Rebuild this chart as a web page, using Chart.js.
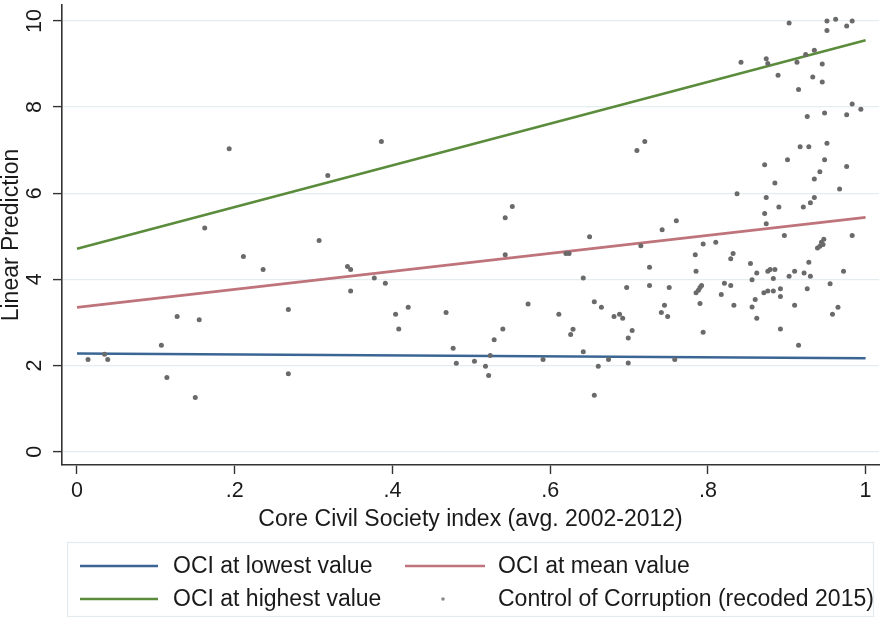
<!DOCTYPE html>
<html>
<head>
<meta charset="utf-8">
<script src="https://cdn.jsdelivr.net/npm/chart.js@4/dist/chart.umd.min.js"></script>
<style>
  html, body { margin: 0; padding: 0; background: #ffffff; }
  #wrap { width: 883px; height: 617px; position: relative; }
</style>
</head>
<body>
<div id="wrap"><canvas id="c" width="883" height="617"></canvas></div>
<script>
// ---------- DATA ----------
const xTicks = [0, 0.2, 0.4, 0.6, 0.8, 1];
const xTickLabels = ["0", ".2", ".4", ".6", ".8", "1"];
const yTicks = [0, 2, 4, 6, 8, 10];
const yTickLabels = ["0", "2", "4", "6", "8", "10"];

const seriesLabels = ["OCI at lowest value", "OCI at mean value", "OCI at highest value", "Control of Corruption (recoded 2015)"];

const lineX = [0, 1];
const lowestY = [2.28, 2.17];
const meanY = [3.35, 5.44];
const highestY = [4.71, 9.55];

const civX = [
  0.014, 0.035, 0.039, 0.107, 0.114, 0.127, 0.150, 0.155, 0.162, 0.193,
  0.211, 0.236, 0.268, 0.268, 0.307, 0.318, 0.343, 0.347, 0.347, 0.377,
  0.386, 0.391, 0.404, 0.408, 0.420, 0.468, 0.477, 0.481, 0.504, 0.518,
  0.522, 0.524, 0.529, 0.540, 0.543, 0.543, 0.552, 0.572, 0.591, 0.611,
  0.620, 0.624, 0.626, 0.629, 0.642, 0.642, 0.650, 0.656, 0.656, 0.661,
  0.665, 0.674, 0.681, 0.688, 0.692, 0.697, 0.699, 0.699, 0.704, 0.710,
  0.720, 0.715, 0.726, 0.726, 0.741, 0.742, 0.745, 0.749, 0.751, 0.758,
  0.760, 0.784, 0.785, 0.785, 0.788, 0.790, 0.792, 0.790, 0.794, 0.794,
  0.810, 0.817, 0.821, 0.829, 0.829, 0.832, 0.833, 0.837, 0.842, 0.854,
  0.856, 0.856, 0.860, 0.862, 0.862, 0.871, 0.872, 0.872, 0.874, 0.874,
  0.874, 0.876, 0.876, 0.876, 0.879, 0.883, 0.883, 0.885, 0.885, 0.889,
  0.890, 0.892, 0.892, 0.892, 0.897, 0.901, 0.903, 0.903, 0.910, 0.910,
  0.913, 0.915, 0.915, 0.917, 0.921, 0.922, 0.924, 0.926, 0.926, 0.928,
  0.928, 0.930, 0.930, 0.933, 0.935, 0.935, 0.935, 0.939, 0.942, 0.942,
  0.944, 0.945, 0.945, 0.946, 0.947, 0.948, 0.948, 0.951, 0.951, 0.951,
  0.955, 0.958, 0.962, 0.965, 0.967, 0.972, 0.976, 0.976, 0.976, 0.983,
  0.983, 0.983, 0.994
];
const corruptionY = [
  2.14, 2.26, 2.14, 2.47, 1.72, 3.14, 1.26, 3.06, 5.19, 7.03,
  4.53, 4.23, 3.30, 1.81, 4.90, 6.41, 4.30, 4.23, 3.73, 4.03,
  7.20, 3.91, 3.19, 2.85, 3.35, 3.23, 2.40, 2.05, 2.10, 1.98,
  1.77, 2.23, 2.60, 2.85, 4.57, 5.43, 5.69, 3.43, 2.14, 3.19,
  4.60, 4.60, 2.72, 2.84, 4.03, 2.32, 4.99, 3.48, 1.31, 1.98,
  3.35, 2.14, 3.14, 3.19, 3.10, 3.81, 2.64, 2.06, 2.81, 6.99,
  7.20, 4.78, 4.28, 3.86, 3.23, 5.15, 3.40, 3.14, 3.81, 2.14,
  5.36, 4.57, 4.19, 3.69, 3.75, 3.81, 3.86, 3.44, 2.77, 4.82,
  4.86, 3.65, 3.91, 3.86, 4.48, 4.60, 3.40, 5.99, 9.04, 4.37,
  3.99, 3.36, 3.53, 4.15, 3.10, 3.69, 6.66, 5.53, 9.12, 5.90,
  5.29, 9.01, 4.19, 3.73, 4.23, 4.02, 3.73, 4.23, 6.24, 8.74,
  5.68, 3.78, 3.60, 2.85, 5.02, 6.78, 9.95, 4.07, 4.19, 3.40,
  9.04, 8.41, 2.47, 7.08, 5.68, 4.15, 9.22, 7.78, 3.78, 7.08,
  4.40, 5.78, 4.07, 8.70, 9.32, 6.33, 5.90, 4.73, 6.50, 4.77,
  4.86, 9.00, 8.58, 4.81, 4.93, 7.86, 6.78, 10.00, 9.78, 7.16,
  3.90, 3.19, 10.04, 3.35, 6.10, 4.19, 9.88, 7.82, 6.62, 10.00,
  8.07, 5.02, 7.95
];

// ---------- STYLE ----------
const FONT = '"Liberation Sans", Arial, Helvetica, sans-serif';
const colors = ['#3b6694', '#bf737b', '#5b8c3c', '#6a6a6a'];

const toPts = (xs, ys) => xs.map((x, i) => ({ x: x, y: ys[i] }));

const lineDs = (label, ys, color) => ({
  type: 'scatter',
  label: label,
  data: toPts(lineX, ys),
  showLine: true,
  borderColor: color,
  backgroundColor: color,
  borderWidth: 2.6,
  pointRadius: 0,
  pointHoverRadius: 0,
  order: 2
});

const datasets = [
  lineDs(seriesLabels[0], lowestY, colors[0]),
  lineDs(seriesLabels[1], meanY, colors[1]),
  lineDs(seriesLabels[2], highestY, colors[2]),
  {
    type: 'scatter',
    label: seriesLabels[3],
    data: toPts(civX, corruptionY),
    showLine: false,
    pointRadius: 2.5,
    pointBorderWidth: 0,
    pointBackgroundColor: colors[3],
    borderColor: colors[3],
    backgroundColor: colors[3],
    order: 1
  }
];

function zeroPad(s) { s.paddingLeft = 0; s.paddingRight = 0; s.paddingTop = 0; s.paddingBottom = 0; }

const legendPlugin = {
  id: 'boxLegend',
  afterDraw(chart) {
    const ctx = chart.ctx;
    const box = { x: 67, y: 542, w: 806, h: 74 };
    ctx.save();
    ctx.fillStyle = '#ffffff';
    ctx.fillRect(box.x, box.y, box.w, box.h);
    ctx.strokeStyle = '#e3eaee';
    ctx.lineWidth = 1.2;
    ctx.strokeRect(box.x + 0.5, box.y + 0.5, box.w, box.h);
    const rows = [566, 599];
    const keyX = [[80, 158], [405, 485]];
    const textX = [173, 498];
    ctx.font = '23px ' + FONT;
    ctx.textBaseline = 'middle';
    ctx.textAlign = 'left';
    chart.data.datasets.forEach((ds, i) => {
      const r = Math.floor(i / 2), c = i % 2;
      const y = rows[r];
      const [x0, x1] = keyX[c];
      if (ds.showLine) {
        ctx.strokeStyle = ds.borderColor;
        ctx.lineWidth = ds.borderWidth;
        ctx.beginPath();
        ctx.moveTo(x0, y);
        ctx.lineTo(x1, y);
        ctx.stroke();
      } else {
        ctx.fillStyle = '#8a8a8a';
        ctx.beginPath();
        ctx.arc(443, y, 1.8, 0, Math.PI * 2);
        ctx.fill();
      }
      ctx.fillStyle = '#1a1a1a';
      ctx.fillText(ds.label, textX[c], y + 1);
    });
    ctx.restore();
  }
};

new Chart(document.getElementById('c'), {
  type: 'scatter',
  data: { datasets: datasets },
  plugins: [legendPlugin],
  options: {
    responsive: false,
    animation: false,
    devicePixelRatio: 1,
    layout: { padding: { left: 0, right: 3, top: 5, bottom: 77 } },
    plugins: {
      legend: { display: false },
      tooltip: { enabled: false }
    },
    scales: {
      x: {
        type: 'linear',
        min: -0.019,
        max: 1.017,
        afterBuildTicks: s => { s.ticks = xTicks.map(v => ({ value: v })); },
        afterFit: s => { s.height = 75; zeroPad(s); },
        ticks: {
          callback: (v) => { const i = xTicks.findIndex(t => Math.abs(t - v) < 1e-9); return i >= 0 ? xTickLabels[i] : ''; },
          font: { family: FONT, size: 21.5 },
          color: '#1a1a1a',
          padding: 4,
          maxRotation: 0,
          autoSkip: false
        },
        grid: {
          drawOnChartArea: false,
          drawTicks: true,
          tickLength: 9,
          tickColor: '#333333',
          tickWidth: 1.4
        },
        border: { display: true, color: '#333333', width: 1.6 },
        title: {
          display: true,
          text: 'Core Civil Society index (avg. 2002-2012)',
          font: { family: FONT, size: 23 },
          color: '#1a1a1a',
          padding: { top: 0, bottom: 7 }
        }
      },
      y: {
        type: 'linear',
        min: -0.31,
        max: 10.37,
        afterBuildTicks: s => { s.ticks = yTicks.map(v => ({ value: v })); },
        afterFit: s => { s.width = 62; zeroPad(s); },
        ticks: {
          callback: (v) => { const i = yTicks.findIndex(t => Math.abs(t - v) < 1e-9); return i >= 0 ? yTickLabels[i] : ''; },
          font: { family: FONT, size: 21.5 },
          color: '#1a1a1a',
          minRotation: 90,
          maxRotation: 90,
          crossAlign: 'center',
          padding: 6,
          autoSkip: false
        },
        grid: {
          color: '#e4eef1',
          lineWidth: 1.2,
          drawTicks: true,
          tickLength: 9,
          tickColor: '#333333',
          tickWidth: 1.4
        },
        border: { display: true, color: '#333333', width: 1.6 },
        title: {
          display: true,
          text: 'Linear Prediction',
          font: { family: FONT, size: 23, lineHeight: 1.05 },
          color: '#1a1a1a',
          padding: { top: 0, bottom: 0 }
        }
      }
    }
  }
});
</script>
</body>
</html>
